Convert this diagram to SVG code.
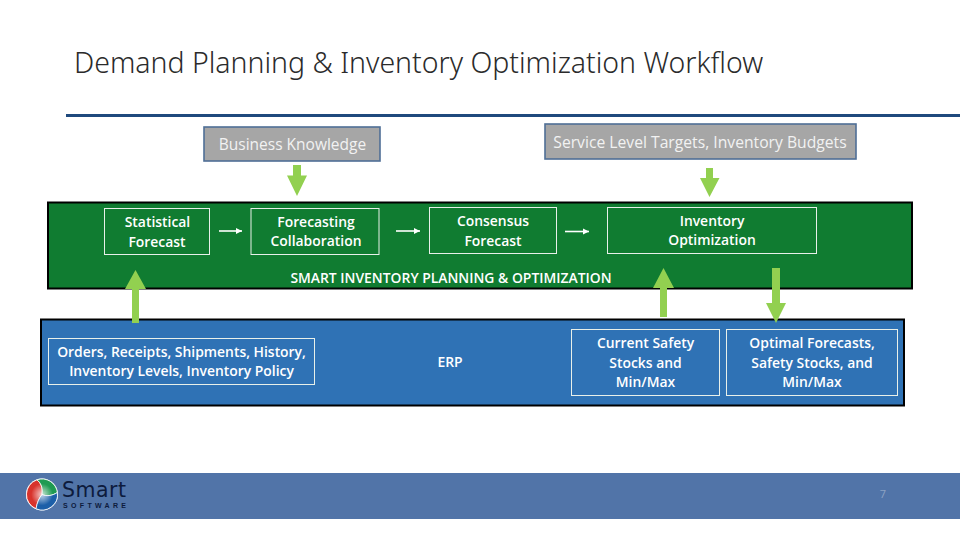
<svg xmlns="http://www.w3.org/2000/svg" width="960" height="540" viewBox="0 0 960 540">
<style>
text{font-family:"Open Sans","Noto Sans","Liberation Sans",sans-serif}
.t{fill:#fff;font-size:13.900px;font-weight:600;text-anchor:middle}
.g{fill:#f2f2f2;font-size:15.500px;text-anchor:middle}
.b{fill:none;stroke:#e8f0ea;stroke-width:1}
.a{fill:#92d050}
.s{stroke:#fff;stroke-width:1.600;fill:none}
.w{stroke:#fff;stroke-width:.8}
</style>
<defs>
<marker id="h" markerUnits="userSpaceOnUse" markerWidth="7" markerHeight="7" refX="6" refY="3.500" orient="auto"><path d="M0 0.500L6 3.500L0 6.500z" fill="#fff"/></marker>
<radialGradient id="c" cx="42" cy="494.500" r="15.500" gradientUnits="userSpaceOnUse"><stop offset="0" stop-color="#fff" stop-opacity=".75"/><stop offset=".7" stop-color="#fff" stop-opacity="0"/></radialGradient>
</defs>
<rect width="960" height="540" fill="#fff"/>
<text x="74" y="73" font-size="28.450" font-weight="300" fill="#2b2b2b" style="font-family:'Noto Sans','Open Sans',sans-serif">Demand Planning &amp; Inventory Optimization Workflow</text>
<rect x="66" y="114" width="894" height="3" fill="#1f497d"/>
<g id="panel-green"><rect x="48" y="202.500" width="864" height="86" fill="#107c31" stroke="#000" stroke-width="2"/>
<text class="t" x="451" y="282.500">SMART INVENTORY PLANNING &amp; OPTIMIZATION</text></g>
<g id="panel-blue"><rect x="41" y="319.500" width="863" height="86" fill="#2f72b5" stroke="#000" stroke-width="2"/>
<text class="t" x="450" y="366.500">ERP</text></g>
<g id="business-knowledge"><rect x="204" y="127" width="176" height="34" fill="#a6a6a6" stroke="#4f6f96" stroke-width="1.600"/><text class="g" x="292.500" y="149.500">Business Knowledge</text></g>
<g id="service-level"><rect x="545" y="124" width="311" height="35" fill="#a6a6a6" stroke="#4f6f96" stroke-width="1.600"/><text class="g" x="700" y="147.500" style="font-size:15.700px">Service Level Targets, Inventory Budgets</text></g>
<g id="statistical-forecast"><rect class="b" x="104.500" y="208.500" width="105" height="46"/><text class="t" x="157.500" y="226.500">Statistical</text><text class="t" x="157" y="246.500">Forecast</text></g>
<g id="forecasting-collaboration"><rect class="b" x="251" y="208.500" width="128" height="46"/><text class="t" x="316" y="226.500">Forecasting</text><text class="t" x="316" y="245.500">Collaboration</text></g>
<g id="consensus-forecast"><rect class="b" x="429.500" y="207.500" width="127" height="46"/><text class="t" x="493" y="225.500">Consensus</text><text class="t" x="493" y="245.500">Forecast</text></g>
<g id="inventory-optimization"><rect class="b" x="607.500" y="207.500" width="209" height="46"/><text class="t" x="712" y="225.500">Inventory</text><text class="t" x="712" y="244.500">Optimization</text></g>
<g id="orders"><rect class="b" x="48.500" y="338.500" width="266" height="46"/><text class="t" x="181.500" y="356.500">Orders, Receipts, Shipments, History,</text><text class="t" x="181.500" y="375.500">Inventory Levels, Inventory Policy</text></g>
<g id="current-safety"><rect class="b" x="571.500" y="329.500" width="148" height="66"/><text class="t" x="645.500" y="347.500">Current Safety</text><text class="t" x="645.500" y="367.500">Stocks and</text><text class="t" x="645.500" y="386.500">Min/Max</text></g>
<g id="optimal-forecasts"><rect class="b" x="726.500" y="329.500" width="171" height="66"/><text class="t" x="812" y="347.500">Optimal Forecasts,</text><text class="t" x="812" y="367.500">Safety Stocks, and</text><text class="t" x="812" y="386.500">Min/Max</text></g>
<g id="connectors">
<line class="s" x1="219" y1="231" x2="242" y2="231" marker-end="url(#h)"/>
<line class="s" x1="396" y1="231" x2="420" y2="231" marker-end="url(#h)"/>
<line class="s" x1="565" y1="231.500" x2="589" y2="231.500" marker-end="url(#h)"/>
<path class="a" d="M293 165H301V175.500H307L297 196L287 175.500H293z"/>
<path class="a" d="M706 168H713V178H719.500L709.500 197L700 178H706z"/>
<path class="a" d="M132 323V289H125L135.500 270L146 289H139V323z"/>
<path class="a" d="M660 317V288H653L663.500 268L674 288H667V317z"/>
<path class="a" d="M772 268H780V303H786L776 323L766 303H772z"/>
</g>
<g id="footer"><rect y="473" width="960" height="46" fill="#5174a8"/>
<text x="883" y="498" font-size="11" fill="#8da3c4" text-anchor="middle">7</text></g>
<g id="logo">
<circle cx="42" cy="494.500" r="16" fill="#fff"/>
<path class="w" d="M42 494.500C43 488 41 483 37 479.800A15.500 15.500 0 0 0 36 508.800C37 503 39 498 42 494.500z" fill="#d8332c"/>
<path class="w" d="M42 494.500C43 488 41 483 37 479.800A15.500 15.500 0 0 1 57.400 492.500C52 496 46 496.500 42 494.500z" fill="#1f9a52"/>
<path class="w" d="M42 494.500C46 496.500 52 496 57.400 492.500A15.500 15.500 0 0 1 36 508.800C37 503 39 498 42 494.500z" fill="#1c5fa8"/>
<circle cx="42" cy="494.500" r="15.500" fill="url(#c)"/>
<text x="62" y="497" font-size="20.500" fill="#0d1b3d" style="font-family:'DejaVu Sans',sans-serif" textLength="64" lengthAdjust="spacing">Smart</text>
<text x="63" y="507.500" font-size="7" font-weight="700" fill="#0d1b3d" style="font-family:'Liberation Sans',sans-serif" textLength="63" lengthAdjust="spacing">SOFTWARE</text>
</g>
</svg>
